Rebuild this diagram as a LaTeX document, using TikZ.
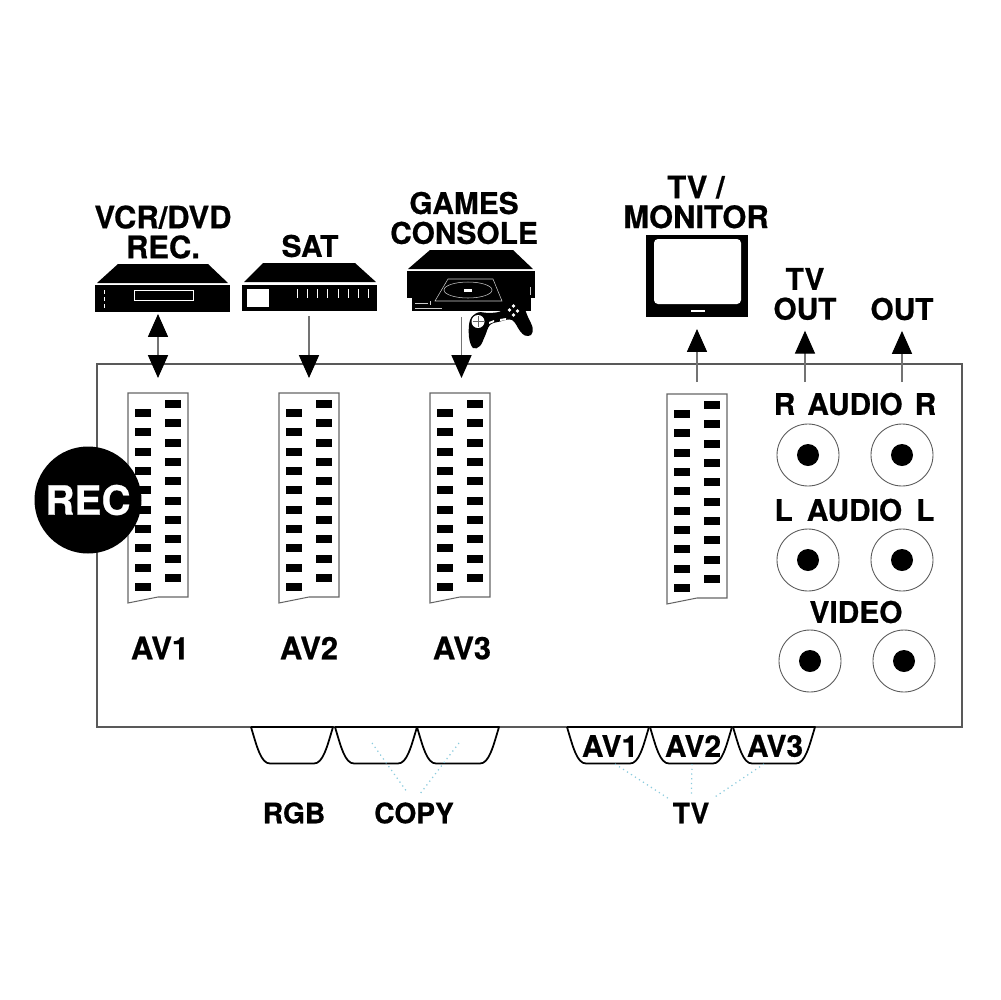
\documentclass[tikz,border=0pt]{standalone}
\usepackage{fontspec}
\setmainfont[BoldFeatures={FakeBold=0.6}]{TeX Gyre Heros}
\usetikzlibrary{positioning, arrows.meta}
\definecolor{leadblue}{HTML}{8CCBDD}

\begin{document}
\begin{tikzpicture}[
  x=0.1mm,y=-0.1mm,
  node distance=9.1mm,
  lbl/.style={font=\fontsize{8}{8}\selectfont\bfseries,inner sep=0pt,align=center},
  tablbl/.style={font=\fontsize{8.5}{8.5}\selectfont\bfseries,inner sep=0pt,align=center},
  toplbl/.style={font=\fontsize{8.5}{8.5}\selectfont\bfseries,inner sep=0pt,align=center},
  biglbl/.style={font=\fontsize{8.8}{8.5}\selectfont\bfseries,inner sep=0pt,align=center},
  devbody/.style={fill=black,inner sep=0pt,outer sep=0pt},
  panel/.style={draw=black!65,line width=0.35pt,inner sep=0pt,outer sep=0pt,minimum width=86.5mm,minimum height=36.3mm},
  scart/.style={inner sep=0pt,outer sep=0pt,minimum width=6mm,minimum height=21mm},
  scartline/.style={draw=black!60,line width=0.3pt},
  jack/.style={circle,draw=black!65,line width=0.25pt,minimum size=6.2mm,inner sep=0pt},
  hole/.style={circle,fill=black,minimum size=2.2mm,inner sep=0pt},
  wire/.style={draw=black!55,line width=0.3pt},
  arrow/.style={wire,-{Triangle[length=6.5pt,width=5.7pt,black]}},
  twoway/.style={wire,{Triangle[length=6.5pt,width=5.7pt,black]}-{Triangle[length=6.5pt,width=5.7pt,black]}},
  tab/.style={draw=black,line width=0.5pt,line join=round},
  leader/.style={draw=leadblue,line width=0.35pt,densely dotted},
]
\useasboundingbox (0,0) rectangle (1000,1000);

\node[panel] (panel) at (529.5,545.5) {};

% scart sockets
\node[scart] (av1) at (158,498) {};
\node[scart,right=of av1] (av2) {};
\node[scart,right=of av2] (av3) {};
\node[scart] (tvm) at (697,499) {};

\foreach \s in {av1,av2,av3,tvm} {
  \draw[scartline] (\s.north west) -- (\s.north east) -- ([yshift=0.6mm]\s.south east)
    -- ([yshift=0.6mm]\s.south) -- (\s.south west) -- cycle;
  \foreach \i in {0,...,9} {
    \fill ([shift={(7,16+19.35*\i)}]\s.north west) rectangle ++(16,8);
    \fill ([shift={(37,7+19.35*\i)}]\s.north west) rectangle ++(16,8);
  }
}

\node[biglbl,below=3.3mm of av1,xshift=0.2mm] (av1lbl) {AV1};
\node[biglbl,below=3.3mm of av2] (av2lbl) {AV2};
\node[biglbl,below=3.3mm of av3,xshift=0.2mm] (av3lbl) {AV3};

% audio and video jacks
\foreach \n/\x/\y in {ra/808/455,rb/902/455,la/808/560,lb/902/560,va/810/661,vb/904/661} {
  \node[jack] (\n) at (\x,\y) {};
  \node[hole] at (\n.center) {};
}
\node[toplbl] (audr) at (855,404) {R\hspace{1.2mm}AUDIO\hspace{1.2mm}R};
\node[toplbl] (audl) at (854.5,510) {L\hspace{1.4mm}AUDIO\hspace{1.4mm}L};
\node[toplbl] (vid) at (856,612) {VIDEO};

% devices
\node[devbody,minimum width=13.5mm,minimum height=2.7mm] (vcr) at (162.5,298.5) {};
\fill (118,264) -- (208,264) -- (228,283) -- (97,283) -- cycle;
\draw[white,line width=0.2pt] (134,290) rectangle (193,300);
\foreach \y in {290,297,304} {
  \fill[white] (103.5,\y) rectangle ++(1.5,4);
}

\node[devbody,minimum width=13.5mm,minimum height=2.6mm] (sat) at (309.5,298) {};
\fill (263,263) -- (355,263) -- (376,282) -- (244,282) -- cycle;
\fill[white] (247,289) rectangle (269,307);
\foreach \i in {0,...,7} {
  \fill[white] (296.7+10.2*\i,289) rectangle ++(1,9);
}

\node[devbody,minimum width=11.9mm,minimum height=1.5mm] (console) at (471.5,303.5) {};
\node[devbody,minimum width=12.8mm,minimum height=2.7mm] (consoletop) at (471,284.5) {};
\fill (430,250) -- (513,250) -- (533,269) -- (408,269) -- cycle;
\draw[white!80!black,line width=0.15pt] (448,279) -- (493,279) -- (502,301) -- (435,301) -- cycle;
\draw[white!80!black,line width=0.15pt] (468,290) ellipse [x radius=24,y radius=8];
\fill[white] (464,288.5) rectangle (472,291.5);
\draw[white!80!black,line width=0.15pt] (415,303) -- (428,303) (415,308) -- (442,308) (430,301) -- (430,305) (530,287) -- (530,295);
\fill plot[smooth cycle,tension=0.6] coordinates {(470,320) (478,312.5) (488,313) (500,311.5) (508,305)
  (516,302.5) (523,306) (528,317) (532.7,328) (531,335) (525,335.5) (520,331) (512,320) (500,321.5)
  (490,325) (485,336) (480,346) (473,348) (469,337)};
\fill[white] (478,321.5) circle (6.5);
\draw[black!60,line width=0.2pt] (478,316) -- (478,327) (472.5,321.5) -- (483.5,321.5);
\foreach \x/\y in {513.5/306,509.5/310,517.5/311,513.5/315} {
  \fill[white] (\x,\y) circle (1.8);
}
\fill[white] (489,322) -- (494,320) -- (494,322) -- (489,324) -- cycle;
\fill[white] (500,319) -- (506,318) -- (506,320) -- (500,321) -- cycle;

\node[devbody,minimum width=10.2mm,minimum height=8.2mm] (tv) at (697,276) {};
\fill[white,rounded corners=0.4mm] (654,239) rectangle (741,304);
\fill[white] (691,310) rectangle (705,312);

% device labels
\node[biglbl] (vcrlbl) at (163,232) {VCR/DVD\\REC.};
\node[toplbl] (satlbl) at (310,246) {SAT};
\node[toplbl] (gameslbl) at (464,218) {GAMES\\CONSOLE};
\node[biglbl] (tvlbl) at (696,202) {TV /\\MONITOR};
\node[toplbl] (tvoutlbl) at (805,294) {TV\\OUT};
\node[toplbl] (outlbl) at (902,309) {OUT};

\coordinate (tvoutfoot) at (805,382);
\coordinate (outfoot) at (902,382);

\draw[twoway,shorten <=0.2mm,shorten >=1.5mm] (av1.north |- vcr.south) -- (av1.north);
\draw[arrow,shorten <=0.5mm,shorten >=1.5mm] (av2.north |- sat.south) -- (av2.north);
\draw[arrow,shorten <=0.6mm,shorten >=1.5mm] ([xshift=0.15mm]av3.north |- console.south) -- ([xshift=0.15mm]av3.north);
\draw[arrow,shorten <=1.2mm,shorten >=1.2mm] (tvm.north) -- (tv.south);
\draw[arrow,shorten >=1mm] (tvoutfoot) -- (tvoutlbl.south);
\draw[arrow,shorten >=1mm] (outfoot) -- (outlbl.south);

% bottom sockets
\foreach \n/\x in {rgb/251,copya/335,copyb/417,tva/567,tvb/650,tvc/733} {
  \begin{scope}[shift={(\x,727)}]
    \draw[tab] (0,0) -- (82,0) .. controls (76,20) and (72,36.5) .. (63,36.5)
      -- (19,36.5) .. controls (10,36.5) and (6,20) .. (0,0);
  \end{scope}
  \coordinate (\n) at (\x+41,764);
}

\node[tablbl] at (610,746) (tabav1) {AV1};
\node[tablbl] at (693,746) (tabav2) {AV2};
\node[tablbl] at (775,746) (tabav3) {AV3};

\node[lbl] (rgblbl) at (294,813) {RGB};
\node[lbl] (copylbl) at (414,813) {COPY};
\node[lbl] (tvsel) at (691,813) {TV};

\draw[leader,shorten >=1.1mm] ([shift={(-0.4mm,2.1mm)}]copya) -- (copylbl.north);
\draw[leader,shorten >=1.1mm] ([shift={(0.1mm,2.1mm)}]copyb) -- (copylbl.north);
\draw[leader,shorten >=2.7mm] ([xshift=0.7mm]tva) -- (tvsel.center);
\draw[leader,shorten >=1.6mm] ([xshift=0.1mm]tvb) -- (tvsel.center);
\draw[leader,shorten >=2.7mm] ([xshift=-1mm]tvc) -- (tvsel.center);

\node[circle,fill=black,minimum size=10.7mm,inner sep=0pt,text=white,font=\fontsize{11.5}{11.5}\selectfont\bfseries] (rec) at (88,500) {REC};

\end{tikzpicture}
\end{document}
